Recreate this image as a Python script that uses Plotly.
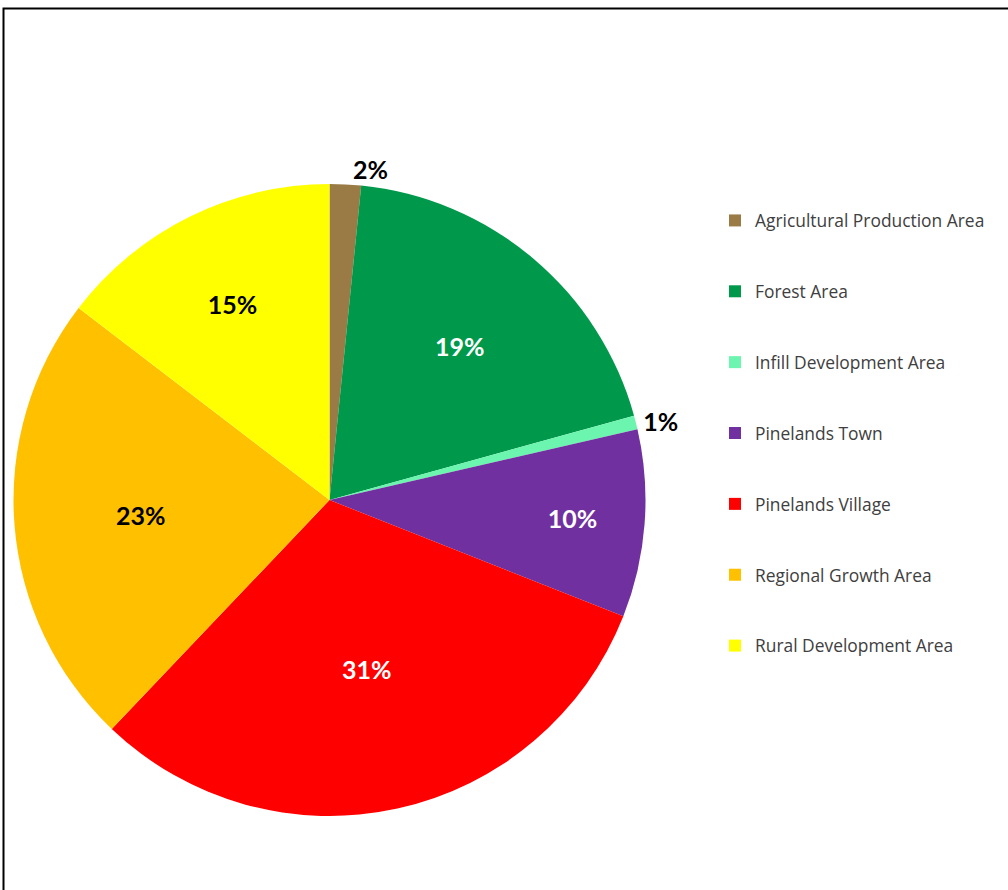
import plotly.graph_objects as go

categories = [
    "Agricultural Production Area",
    "Forest Area",
    "Infill Development Area",
    "Pinelands Town",
    "Pinelands Village",
    "Regional Growth Area",
    "Rural Development Area",
]
shares = [1.6, 19.1, 0.7, 9.6, 31.1, 23.3, 14.6]
colors = ["#9B7B45", "#00994C", "#6CF5AE", "#7030A0", "#FF0000", "#FFC000", "#FFFF00"]
label_colors = ["#000000", "#FFFFFF", "#000000", "#FFFFFF", "#FFFFFF", "#000000", "#000000"]
label_positions = ["outside", "inside", "outside", "inside", "inside", "inside", "inside"]

W, H = 1008, 890
cx, cy, r = 329.5, 500, 316

legend_names = ["<br>" + c + "<br> " for c in categories]

fig = go.Figure(
    go.Pie(
        labels=legend_names,
        values=shares,
        sort=False,
        direction="clockwise",
        rotation=0,
        marker=dict(colors=colors, line=dict(width=0)),
        texttemplate="%{percent:.0%}",
        textposition=label_positions,
        insidetextorientation="horizontal",
        textfont=dict(family="Lato", size=25, color=label_colors, weight="bold"),
        domain=dict(x=[(cx - r) / W, (cx + r) / W], y=[(H - cy - r) / H, (H - cy + r) / H]),
        hoverinfo="label+percent",
    )
)

fig.update_layout(
    width=W,
    height=H,
    margin=dict(l=0, r=0, t=0, b=0),
    paper_bgcolor="white",
    plot_bgcolor="white",
    showlegend=True,
    legend=dict(
        x=715 / W,
        y=1 - 180 / H,
        xanchor="left",
        yanchor="top",
        font=dict(family="Open Sans", size=17.4, color="#404040"),
        itemwidth=30,
        tracegroupgap=0,
    ),
    shapes=[
        dict(
            type="rect", xref="paper", yref="paper",
            x0=3.5 / W, x1=1.02, y0=-0.02, y1=1 - 8.5 / H,
            line=dict(color="black", width=2), fillcolor="rgba(0,0,0,0)",
        )
    ],
)

fig.write_html("out.html")
